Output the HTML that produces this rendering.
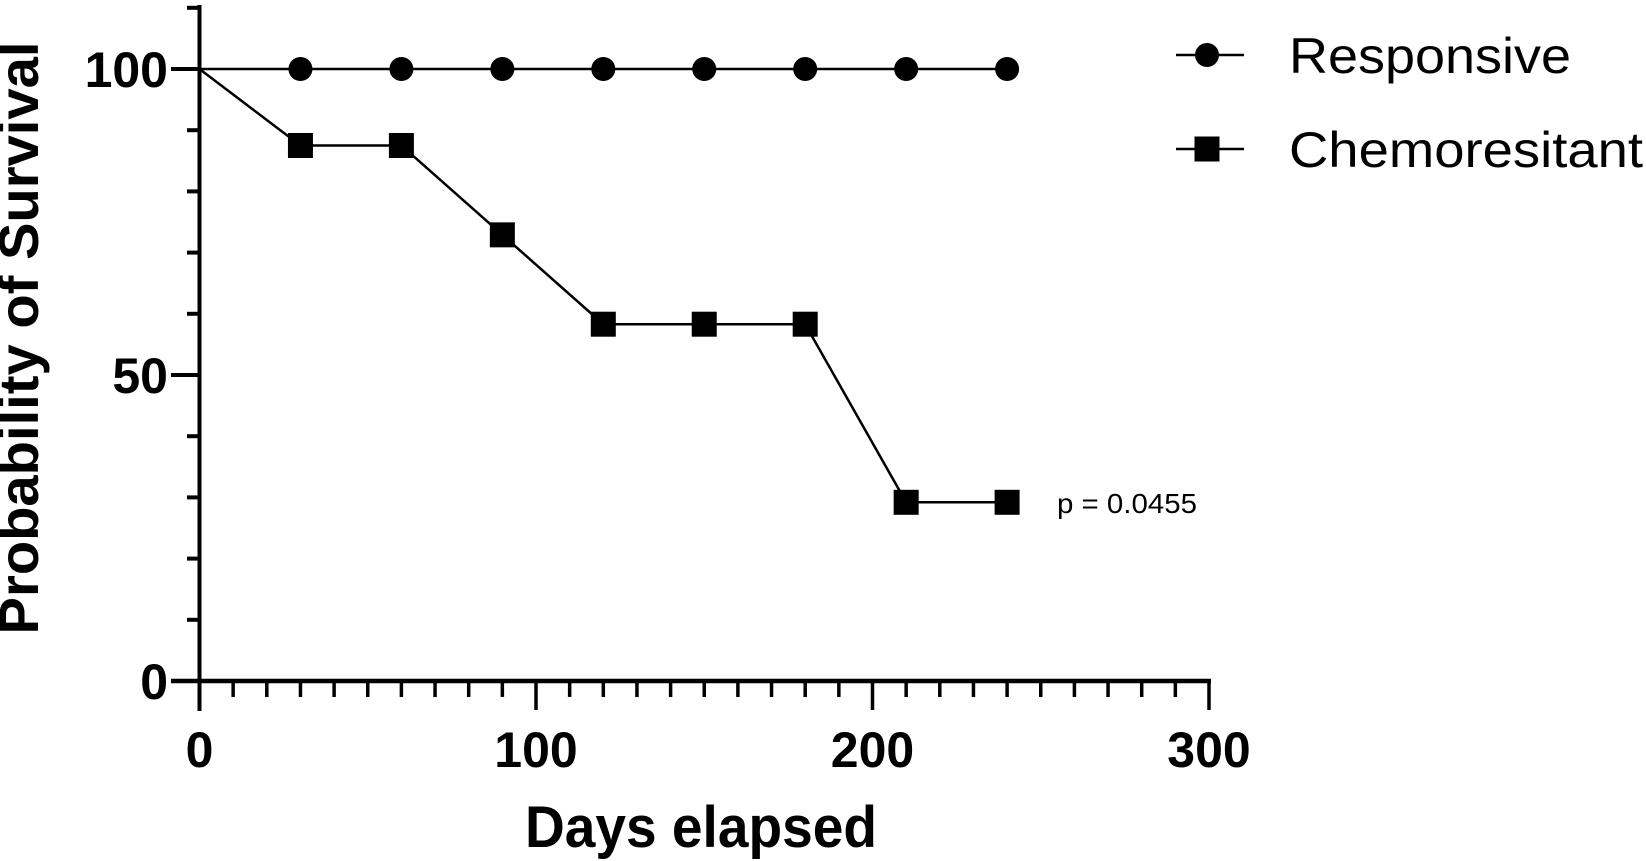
<!DOCTYPE html>
<html><head><meta charset="utf-8"><style>
html,body{margin:0;padding:0;background:#fff;}
svg{display:block;font-family:"Liberation Sans",Arial,sans-serif;}
</style></head><body>
<svg id="chart" width="1646" height="861" viewBox="0 0 1646 861">
<g id="axes"></g>
<g id="series"></g>
<text x="23" y="338" transform="rotate(-90 23 338)" text-anchor="middle" dominant-baseline="middle" font-size="56" font-weight="bold" textLength="593" lengthAdjust="spacingAndGlyphs">Probability of Survival</text>
<text x="701" y="847" text-anchor="middle" font-size="58" font-weight="bold" textLength="352" lengthAdjust="spacingAndGlyphs">Days elapsed</text>
<text x="1057" y="513" font-size="28" textLength="140" lengthAdjust="spacingAndGlyphs">p = 0.0455</text>
<g>
 <g>
  <line x1="1176" y1="55" x2="1244" y2="55" stroke="#000" stroke-width="2.5"/>
  <circle cx="1207" cy="55" r="12" fill="#000"/>
  <text x="1289" y="73" font-size="50" textLength="282" lengthAdjust="spacingAndGlyphs">Responsive</text>
 </g>
 <g>
  <line x1="1176" y1="149" x2="1244" y2="149" stroke="#000" stroke-width="2.5"/>
  <rect x="1194.5" y="136.5" width="25" height="25" fill="#000"/>
  <text x="1289" y="167" font-size="50" textLength="354" lengthAdjust="spacingAndGlyphs">Chemoresitant</text>
 </g>
</g>
</svg>
<script>
const days = [0, 30, 60, 90, 120, 150, 180, 210, 240];
const responsive = [100, 100, 100, 100, 100, 100, 100, 100, 100];
const chemoresitant = [100, 87.5, 87.5, 72.9, 58.3, 58.3, 58.3, 29.2, 29.2];
const xTicks = [0, 100, 200, 300];
const yTicks = [0, 50, 100];

const NS = "http://www.w3.org/2000/svg";
const X0 = 199.5, X1 = 1209, Y0 = 681, Y100 = 69;
function sx(v){ return X0 + (X1 - X0) * v / 300; }
function sy(v){ return Y0 + (Y100 - Y0) * v / 100; }
function mk(tag, attrs, parent){
  const e = document.createElementNS(NS, tag);
  for (const k in attrs) e.setAttribute(k, attrs[k]);
  parent.appendChild(e);
  return e;
}
const axes = document.getElementById('axes');
const ser = document.getElementById('series');

let el = mk('line', {x1: X0, y1: 5, x2: X0, y2: Y0 + 30, stroke: '#000', 'stroke-width': 4}, axes);


el = mk('line', {x1: 171, y1: Y0, x2: X1 + 2, y2: Y0, stroke: '#000', 'stroke-width': 4.5}, axes);



for (let v = 0; v <= 110; v += 10) {
  const major = v % 50 === 0;
  if (v > 100 && sy(v) < 5) continue;
  el = mk('line', {x1: major ? 171 : 187, y1: sy(v), x2: X0, y2: sy(v), stroke: '#000', 'stroke-width': 4}, axes);
  
  
}
for (let v = 10; v <= 300; v += 10) {
  const major = v % 100 === 0;
  el = mk('line', {x1: sx(v), y1: Y0, x2: sx(v), y2: major ? 710 : 697, stroke: '#000', 'stroke-width': 3.5}, axes);
  
  
}
xTicks.forEach(v => {
  const t = mk('text', {x: sx(v), y: 767, 'text-anchor': 'middle', 'font-size': 50, 'font-weight': 'bold'}, axes);
  t.textContent = v;
  
  
});
yTicks.forEach(v => {
  const t = mk('text', {x: 168, y: sy(v) + 18, 'text-anchor': 'end', 'font-size': 50, 'font-weight': 'bold'}, axes);
  t.textContent = v;
  
  
});

function line(vals, name){
  const pts = days.map((d, i) => sx(d) + ',' + sy(vals[i])).join(' ');
  const p = mk('polyline', {points: pts, fill: 'none', stroke: '#000', 'stroke-width': 2.5}, ser);
  
  
}
line(responsive, 'responsive-line');
line(chemoresitant, 'chemoresitant-line');
days.forEach((d, i) => {
  if (i === 0) return;
  const c = mk('circle', {cx: sx(d), cy: sy(responsive[i]), r: 12, fill: '#000'}, ser);
  
  
  const r = mk('rect', {x: sx(d) - 12.5, y: sy(chemoresitant[i]) - 12.5, width: 25, height: 25, fill: '#000'}, ser);
  
  
});
</script>
</body></html>
